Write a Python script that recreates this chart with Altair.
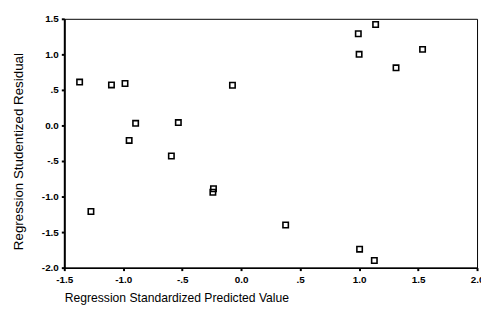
import altair as alt
import pandas as pd

pred = [-1.37, -1.10, -0.985, -0.895, -0.95, -0.533, -0.592, -0.235, -0.24,
        -0.074, -1.274, 0.377, 1.004, 1.129, 0.993, 1.14, 1.0, 1.313, 1.538]
resid = [0.61, 0.57, 0.59, 0.03, -0.21, 0.04, -0.43, -0.89, -0.94,
         0.565, -1.21, -1.40, -1.74, -1.90, 1.29, 1.42, 1.0, 0.81, 1.07]

x_ticks = [-1.5, -1.0, -0.5, 0.0, 0.5, 1.0, 1.5, 2.0]
x_labels = ["-1.5", "-1.0", "-.5", "0.0", ".5", "1.0", "1.5", "2.0"]
y_ticks = [-2.0, -1.5, -1.0, -0.5, 0.0, 0.5, 1.0, 1.5]
y_labels = ["-2.0", "-1.5", "-1.0", "-.5", "0.0", ".5", "1.0", "1.5"]

df = pd.DataFrame({"pred": pred, "resid": resid})


def label_expr(ticks, labels):
    expr = "''"
    for t, l in zip(ticks, labels):
        expr = f"abs(datum.value - ({t})) < 0.001 ? '{l}' : ({expr})"
    return expr


font = "Liberation Sans"

chart = alt.Chart(df).mark_point(
    shape="square", filled=False, size=30, color="black", strokeWidth=1.6, opacity=1
).encode(
    x=alt.X("pred:Q", scale=alt.Scale(domain=[-1.5, 2.0], nice=False, zero=False),
            axis=alt.Axis(values=x_ticks, labelExpr=label_expr(x_ticks, x_labels),
                          title="Regression Standardized Predicted Value",
                          titleAnchor="start", titleAlign="left", titleX=0, titleY=34,
                          titleBaseline="alphabetic", titleFontSize=12.3,
                          titleFontWeight="normal", titleFont=font,
                          labelFont=font, labelFontSize=10, labelFontWeight="bold",
                          labelPadding=4, tickSize=3, tickWidth=2, tickColor="black",
                          domainColor="black", domainWidth=1.5, grid=False,
                          labelColor="black", titleColor="black", labelFlush=False)),
    y=alt.Y("resid:Q", scale=alt.Scale(domain=[-2.0, 1.5], nice=False, zero=False),
            axis=alt.Axis(values=y_ticks, labelExpr=label_expr(y_ticks, y_labels),
                          title="Regression Studentized Residual",
                          titleX=-46, titleY=134, titleAngle=-90,
                          titleAlign="center", titleBaseline="middle",
                          titleFontSize=13.5, titleFontWeight="normal", titleFont=font,
                          labelFont=font, labelFontSize=10, labelFontWeight="bold",
                          labelPadding=3, tickSize=3, tickWidth=2, tickColor="black",
                          domainColor="black", domainWidth=2, grid=False,
                          labelColor="black", titleColor="black", labelFlush=False)),
).properties(
    width=418, height=252,
    autosize=alt.AutoSizeParams(type="none"),
    padding={"left": 57, "top": 9, "right": 4, "bottom": 45},
).configure_view(stroke="black", strokeWidth=1)

chart.save("out.html", embed_options={"renderer": "svg", "actions": False})
